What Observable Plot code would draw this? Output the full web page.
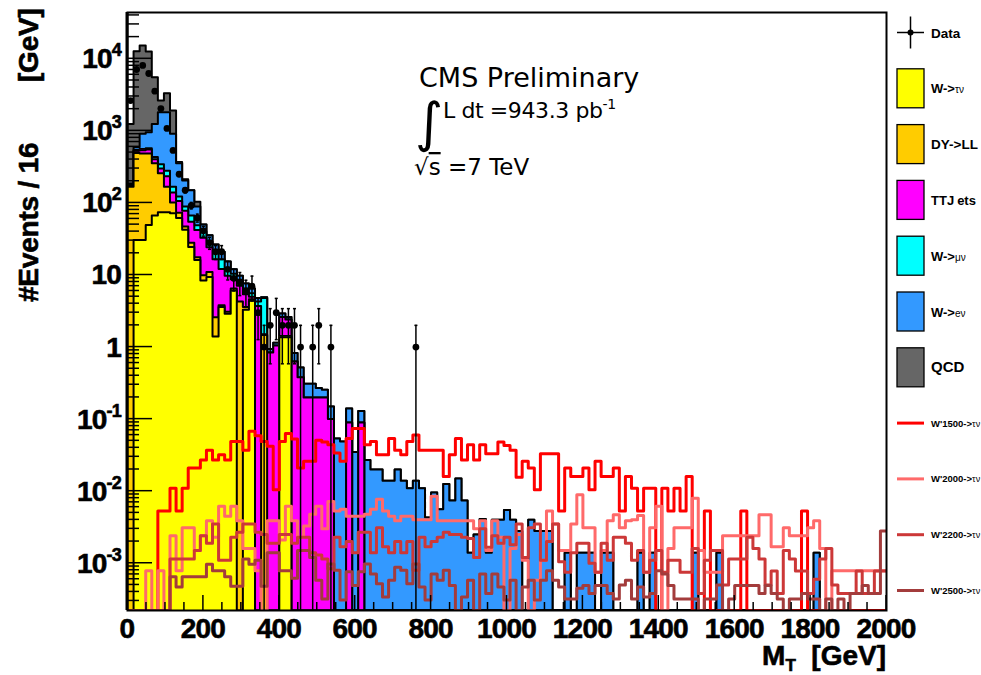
<!DOCTYPE html>
<html><head><meta charset="utf-8">
<script src="https://cdn.jsdelivr.net/npm/d3@7"></script>
<script src="https://cdn.jsdelivr.net/npm/@observablehq/plot@0.6"></script>
<style>html,body{margin:0;padding:0;background:#fff;overflow:hidden;}</style>
</head><body><div id="chart"></div>
<script>
// ---------- data (bins of 16 GeV from 0 to 2000) ----------
const binWidth = 16;
const nBins = 125;
const yMin = 2.21e-4, yMax = 4.39e4;

const xTickLabels = [0, 200, 400, 600, 800, 1000, 1200, 1400, 1600, 1800, 2000];
const yTickExps = [4, 3, 2, 1, 0, -1, -2, -3];

// stacked backgrounds (per-bin contributions)
const wTauNu = [0, 30.5, 30.5, 49.5, 67, 74, 74, 72, 62, 42.5,
  24.5, 16.2, 8.4, 9.4, 1.4, 3.6, 2.9, 6.1, 0, 3.3,
  4.4, 0, 0, 0, 0, 1.37, 1.37];
const dyLL = [168, 464, 454, 435, 288, 184, 94, 29, 11, 4.5,
  3.5, 1.4, 1.5, 1.6, 1.2, 0.2, 0.2, 0.4, 4.3, 0.3,
  0.2, 0, 1.47, 0, 0, 0.05, 0.05];
const ttJets = [5, 35, 55, 65, 50, 42, 67, 39, 33, 31,
  27, 24.4, 23.1, 13.3, 13.9, 8.3, 6.7, 2.2, 2.8, 1.8,
  0.4, 3.7, 0.03, 0.84, 1.05, 1.2, 1.0, 0.63, 0.38, 0.2,
  0.2, 0.2, 0.2, 0.1, 0, 0, 0.09, 0, 0.09];
const wMuNu = [5, 15, 20, 25, 30, 45, 45, 28, 17, 11,
  12, 7, 7, 4.7, 3.5, 4.4, 2.2, 1.7, 1.1, 1.1,
  0.6, 0.6, 3.3];
const wENu = [8, 48, 350, 385, 815, 1470, 1535, 742, 232, 116,
  83, 40, 10, 6.5, 6.5, 4.5, 3.4, 1.6, 1.6, 1.1,
  0.9, 0.5, 0.1, 0.1, 0.1, 0.3, 0.2, 0.2, 0.14, 0.11,
  0.11, 0.07, 0.055, 0.05, 0.054, 0.049, 0.05, 0.035, 0.04, 0.027,
  0.02, 0.02, 0.014, 0.014, 0.02, 0.014, 0.011, 0.014, 0.011, 0.0043,
  0.0096, 0.0056, 0.0126, 0.0074, 0.015, 0.0074, 0.0014, 0.0025, 0.0041, 0.0014,
  0.004, 0.004, 0.0055, 0.004, 0.0028, 0, 0.004, 0.0028, 0.0028, 0.0028,
  0, 0, 0.0014, 0, 0.0014, 0.0014, 0.0014, 0, 0.0014, 0.0014,
  0, 0, 0, 0, 0.0014, 0, 0.0014, 0, 0, 0,
  0, 0, 0, 0.0014, 0, 0, 0, 0.0014, 0, 0,
  0, 0, 0, 0, 0, 0, 0, 0, 0, 0,
  0, 0, 0, 0.0014];
const qcd = [1064, 12100, 14400, 11700, 4300, 825, 1515, 1010, 14, 8,
  0, 15];

// signals
const wp1500 = [0, 0, 0, 0, 0, 0.0053, 0.0053, 0.011, 0.0053, 0.011,
  0.021, 0.021, 0.027, 0.037, 0.027, 0.032, 0.027, 0.049, 0.049, 0.037,
  0.068, 0.059, 0.049, 0.042, 0.0105, 0.049, 0.063, 0.053, 0.021, 0.026,
  0.026, 0.051, 0.048, 0.044, 0.034, 0.026, 0.054, 0.074, 0.074, 0.044,
  0.049, 0.032, 0.032, 0.054, 0.037, 0.032, 0.049, 0.060, 0.037, 0.037,
  0.037, 0.037, 0.016, 0.032, 0.054, 0.027, 0.044, 0.027, 0.044, 0.033,
  0.033, 0.048, 0.043, 0.037, 0.0156, 0.026, 0.021, 0.0105, 0.033, 0.033,
  0.033, 0.0053, 0.021, 0.016, 0.016, 0.021, 0.0105, 0.026, 0.016, 0.016,
  0.021, 0.0053, 0.016, 0.011, 0.0053, 0.011, 0.011, 0, 0.011, 0.0053,
  0.011, 0.0053, 0.016, 0, 0, 0.0053, 0, 0, 0, 0,
  0, 0.0053, 0, 0, 0, 0, 0, 0, 0, 0,
  0, 0.0053, 0, 0, 0, 0, 0, 0, 0, 0,
  0, 0, 0, 0, 0];
const wp2000 = [0, 0, 0, 0.00079, 0, 0.00079, 0, 0.0024, 0.00079, 0.0031,
  0.0031, 0.0015, 0.0024, 0.0039, 0.0023, 0.0062, 0.0045, 0.0062, 0.0039, 0.0016,
  0.0016, 0.00079, 0, 0.0039, 0.0039, 0.0021, 0.0062, 0.0039, 0.0023, 0.0033,
  0.0048, 0.0062, 0.003, 0.0072, 0.0053, 0.0056, 0.0045, 0.0045, 0.0045, 0.0048,
  0.0056, 0.0077, 0.0053, 0.0045, 0.0039, 0.0045, 0.0045, 0.004, 0.004, 0.004,
  0.0085, 0.0039, 0.0039, 0.0039, 0.0039, 0.0039, 0.0039, 0.003, 0.0039, 0.0015,
  0.0039, 0.0023, 0, 0.0016, 0.0025, 0.0011, 0, 0.00058, 0.0011, 0.0053,
  0.0035, 0.0015, 0.0015, 0.0035, 0.0089, 0.0031, 0.0031, 0.00075, 0.0015, 0.0039,
  0.0047, 0.0031, 0.0039, 0.004, 0.0046, 0.00075, 0.0031, 0.0062, 0, 0.0016,
  0.0031, 0.0031, 0.0031, 0.008, 0.0015, 0.00075, 0.00075, 0.00075, 0.0024, 0.0024,
  0.0024, 0.0024, 0.0024, 0.0024, 0.0047, 0.0047, 0.0017, 0.0017, 0.0031, 0.0024,
  0.0024, 0.0024, 0.0031, 0.0039, 0.0016, 0, 0.00079, 0.00079, 0.00079, 0.00079,
  0.00079, 0.00079, 0.00079, 0.00079, 0.00079];
const wp2200 = [0, 0, 0, 0, 0, 0, 0, 0.00115, 0.00115, 0.00115,
  0.00115, 0.0015, 0.0024, 0.0019, 0.0035, 0.0011, 0.0011, 0.0023, 0.0027, 0.0035,
  0.0035, 0.0027, 0.0025, 0.0019, 0.0019, 0.0025, 0.0025, 0.0019, 0.0023, 0.0023,
  0.0014, 0.0013, 0.00115, 0.00084, 0.0023, 0.0017, 0.002, 0.0014, 0.0027, 0.0027,
  0.0014, 0.0031, 0.0017, 0.0014, 0.002, 0.0014, 0.002, 0.0008, 0.0023, 0.0017,
  0.002, 0.0023, 0.0027, 0.0025, 0.0025, 0.0023, 0.0022, 0.0012, 0.003, 0.00167,
  0.0024, 0.0019, 0.0023, 0.0018, 0.0035, 0.0012, 0.0031, 0.0035, 0.0011, 0.002,
  0.0035, 0.00105, 0.00075, 0.0014, 0.0019, 0.0019, 0.001, 0.00075, 0.0019, 0.0011,
  0.0023, 0.0023, 0.0019, 0.0011, 0.0015, 0.00075, 0.0011, 0.0015, 0.00075, 0.0011,
  0.0011, 0.00075, 0.00075, 0.0016, 0.00038, 0.0011, 0.0015, 0.0015, 0.0005, 0.00115,
  0.00115, 0.00115, 0.0023, 0.0016, 0.00115, 0.0005, 0.00078, 0.00038, 0.0015, 0.00115,
  0.00078, 0.00078, 0.00038, 0.0006, 0.00115, 0.0016, 0.0005, 0.00038, 0.00038, 0.00038,
  0.00078, 0.00038, 0.00038, 0.00078, 0.00078];
const wp2500 = [0, 0, 0, 0, 0, 0, 0, 0.00065, 0.00047, 0.00065,
  0.00065, 0.00065, 0.00065, 0.00097, 0.00079, 0.00079, 0.00065, 0.00048, 0.00048, 0.00115,
  0.00097, 0.0011, 0.00048, 0.0014, 0.0014, 0.00079, 0.00079, 0.00062, 0.0015, 0.0015,
  0.0012, 0.00058, 0.00032, 0.00098, 0.0008, 0.00031, 0.00076, 0.00049, 0.00076, 0.00098,
  0.00071, 0.00052, 0.00034, 0.00058, 0.00088, 0.0008, 0.00052, 0.00098, 0.00047, 0.00031,
  0.00071, 0.00058, 0.0008, 0.00049, 0, 0.00034, 0.00058, 0, 0.00071, 0.00038,
  0.00071, 0.00047, 0.00031, 0.00058, 0, 0.00047, 0.00058, 0.00031, 0.00058, 0.00079,
  0.00058, 0.00047, 0.00032, 0.00032, 0.00045, 0.00049, 0.00038, 0.00049, 0.00049, 0.00038,
  0.00032, 0.0005, 0.00058, 0.00032, 0.00047, 0.00034, 0.00038, 0.00079, 0.00071, 0.00049,
  0.00032, 0.00032, 0.00032, 0.00032, 0, 0.00032, 0.00032, 0.0005, 0, 0.00032,
  0.00049, 0.00049, 0.00049, 0.00049, 0.00038, 0.00049, 0.00038, 0.00032, 0, 0.00032,
  0.00032, 0.00038, 0.00032, 0.00032, 0, 0.00032, 0, 0.00032, 0, 0.00038,
  0.00038, 0.00049, 0.00038, 0.00038, 0.0028];

// data (events per bin)
const dataCounts = [2630, 7100, 8080, 6250, 3550, 2040, 1080, 535, 250, 150,
  92, 62, 41, 28, 21, 21, 12, 9, 8, 6,
  7, 3, 1, 2, 3, 2, 2, 2, 1, 0,
  1, 2, 0, 1, 0, 0, 0, 0, 0, 0,
  0, 0, 0, 0, 0, 0, 0, 1];

// ---------- build ----------
const full = a => Array.from({length: nBins}, (_, i) => a[i] ?? 0);
const stackDefs = [ // bottom to top
  {name: "W->τν", values: full(wTauNu), color: "#ffff00"},
  {name: "DY->LL", values: full(dyLL), color: "#ffcc00"},
  {name: "TTJets", values: full(ttJets), color: "#ff00ff"},
  {name: "W->μν", values: full(wMuNu), color: "#00ffff"},
  {name: "W->eν", values: full(wENu), color: "#3399ff"},
  {name: "QCD", values: full(qcd), color: "#666666"}
];
let running = new Array(nBins).fill(0);
for (const s of stackDefs) { running = running.map((c, i) => c + s.values[i]); s.cum = running; }

const edges = d3.range(nBins + 1).map(i => i * binWidth);
const stepPts = vals => edges.map((x, i) => ({x, y: Math.max(vals[Math.min(i, nBins - 1)], yMin), y0: yMin}));

const signals = [
  {name: "W'1500->τν", values: full(wp1500), color: "#ff0000"},
  {name: "W'2000->τν", values: full(wp2000), color: "#ff6a6a"},
  {name: "W'2200->τν", values: full(wp2200), color: "#cc3838"},
  {name: "W'2500->τν", values: full(wp2500), color: "#a33c3c"}
];

const marks = [];
for (const s of [...stackDefs].reverse()) {
  const pts = stepPts(s.cum);
  marks.push(Plot.areaY(pts, {x: "x", y1: "y0", y2: "y", curve: "step-after", fill: s.color, clip: true}));
  marks.push(Plot.lineY(pts, {x: "x", y: "y", curve: "step-after", stroke: "black", strokeWidth: 2, clip: true}));
}
for (const s of signals) {
  marks.push(Plot.lineY(stepPts(s.values), {x: "x", y: "y", curve: "step-after", stroke: s.color, strokeWidth: 3, clip: true}));
}
const dataPts = dataCounts.map((n, i) => ({x: i * binWidth + binWidth / 2, n, lo: Math.max(n - Math.sqrt(n), yMin), hi: n + Math.sqrt(n)})).filter(d => d.n > 0);
marks.push(Plot.ruleX(dataPts, {x: "x", y1: "lo", y2: "hi", stroke: "black", strokeWidth: 1.5, clip: true}));
marks.push(Plot.link(dataPts, {x1: d => d.x - 4, x2: d => d.x + 4, y1: "hi", y2: "hi", stroke: "black", strokeWidth: 1.5, clip: true}));
marks.push(Plot.link(dataPts.filter(d => d.lo > yMin), {x1: d => d.x - 4, x2: d => d.x + 4, y1: "lo", y2: "lo", stroke: "black", strokeWidth: 1.5, clip: true}));
marks.push(Plot.dot(dataPts, {x: "x", y: "n", r: 3.4, fill: "black", stroke: null}));
marks.push(Plot.frame({stroke: "black", strokeWidth: 2}));

const plot = Plot.plot({
  width: 981, height: 675,
  marginLeft: 127, marginRight: 95, marginTop: 12, marginBottom: 65,
  x: {domain: [0, 2000], axis: null},
  y: {type: "log", domain: [yMin, yMax], axis: null},
  style: {background: "white", overflow: "visible"},
  marks
});
document.getElementById("chart").appendChild(plot);

// ---------- axes, texts, legend ----------
const svg = d3.select(plot);
const sx = plot.scale("x"), sy = plot.scale("y");
const [xl, xr] = sx.range;
const [yb, yt] = sy.range;
const bold = '"Liberation Sans", Arial, sans-serif';

svg.append("line").attr("x1", xl).attr("x2", xl).attr("y1", yt).attr("y2", yb).attr("stroke", "black").attr("stroke-width", 3);
const tk = svg.append("g").attr("stroke", "black").attr("stroke-width", 1.5);
d3.range(0, 2001, 50).forEach(v => {
  const len = v % 200 === 0 ? 15 : 8;
  tk.append("line").attr("x1", sx.apply(v)).attr("x2", sx.apply(v)).attr("y1", yb).attr("y2", yb - len);
});
for (let k = -4; k <= 4; k++) for (let m = 1; m <= 9; m++) {
  const v = m * Math.pow(10, k);
  if (v < yMin || v > yMax) continue;
  const py = sy.apply(v);
  tk.append("line").attr("x1", xl).attr("x2", xl + (m === 1 ? 25 : 12)).attr("y1", py).attr("y2", py);
}

const lab = svg.append("g").attr("font-family", bold).attr("font-weight", "bold").attr("fill", "black")
  .attr("stroke", "black").attr("stroke-width", 0.6).attr("text-anchor", "start");
xTickLabels.forEach(v => {
  lab.append("text").attr("x", sx.apply(v)).attr("y", 638).attr("text-anchor", "middle")
    .attr("font-size", 28).attr("letter-spacing", -0.8).text(v);
});
yTickExps.forEach(k => {
  const py = sy.apply(Math.pow(10, k)) + 10;
  const t = lab.append("text").attr("x", 121).attr("y", py).attr("text-anchor", "end").attr("font-size", 28).attr("letter-spacing", -0.8);
  if (k === 0) t.text("1");
  else if (k === 1) t.text("10");
  else {
    t.append("tspan").text("10");
    t.append("tspan").attr("dy", -12).attr("font-size", 18).text(k < 0 ? "-" + (-k) : String(k));
  }
});
// axis titles
lab.append("text").attr("transform", "translate(38,302) rotate(-90)").attr("text-anchor", "start").attr("font-size", 28).attr("letter-spacing", -0.2).text("#Events / 16");
lab.append("text").attr("transform", "translate(38,82) rotate(-90)").attr("text-anchor", "start").attr("font-size", 28).attr("letter-spacing", -0.2).text("[GeV]");
const xt = lab.append("text").attr("x", 886).attr("y", 665).attr("text-anchor", "end").attr("font-size", 28);
xt.append("tspan").text("M");
xt.append("tspan").attr("font-size", 17).attr("dy", 6).text("T");
xt.append("tspan").attr("dy", -6).text("  [GeV]");

// CMS texts
const tx = svg.append("g").attr("font-family", '"DejaVu Sans", sans-serif').attr("fill", "black").attr("text-anchor", "start");
tx.append("text").attr("x", 419).attr("y", 87).attr("font-size", 27).text("CMS Preliminary");
tx.append("text").attr("x", 415).attr("y", 141).attr("font-size", 54).text("∫");
const lum = tx.append("text").attr("x", 443).attr("y", 118).attr("font-size", 22).attr("letter-spacing", -0.4);
lum.append("tspan").text("L dt =943.3 pb");
lum.append("tspan").attr("dy", -9).attr("font-size", 14).text("-1");
const rs = tx.append("text").attr("x", 414).attr("y", 175).attr("font-size", 23);
rs.append("tspan").text("√");
rs.append("tspan").attr("style", "text-decoration: overline").text("s");
rs.append("tspan").text(" =7 TeV");

// legend
const lg = svg.append("g").attr("font-family", bold).attr("font-weight", "bold").attr("text-anchor", "start").attr("fill", "black");
const rowY = k => 32.5 + 55.8 * k;
const lx0 = 897, lx1 = 924, ltx = 931;
lg.append("line").attr("x1", lx0).attr("x2", lx1).attr("y1", rowY(0)).attr("y2", rowY(0)).attr("stroke", "black").attr("stroke-width", 1.5);
lg.append("line").attr("x1", 910.5).attr("x2", 910.5).attr("y1", rowY(0) - 16).attr("y2", rowY(0) + 16).attr("stroke", "black").attr("stroke-width", 1.5);
lg.append("circle").attr("cx", 910.5).attr("cy", rowY(0)).attr("r", 3).attr("fill", "black");
lg.append("text").attr("x", ltx).attr("y", rowY(0) + 5).attr("font-size", 13.5).text("Data");
const legendLabel = (t, name) => {
  const m = name.match(/^(W->)(.+)$/);
  if (m) {
    t.append("tspan").text(m[1]);
    t.append("tspan").attr("font-size", 10).attr("font-weight", "normal").text(m[2]);
  } else if (name === "TTJets") {
    t.append("tspan").text("TTJ");
    t.append("tspan").attr("dx", 3).text("ets");
  } else t.text(name);
};
stackDefs.forEach((s, j) => {
  const cy = rowY(j + 1);
  lg.append("rect").attr("x", lx0).attr("y", cy - 19.5).attr("width", lx1 - lx0).attr("height", 39)
    .attr("fill", s.color).attr("stroke", "black").attr("stroke-width", 1.3);
  const t = lg.append("text").attr("x", ltx).attr("y", cy + 5).attr("font-size", s.name === "QCD" ? 15 : (s.name === "DY->LL" ? 13.5 : 13));
  legendLabel(t, s.name);
});
signals.forEach((s, j) => {
  const cy = rowY(j + 7);
  lg.append("line").attr("x1", lx0).attr("x2", lx1).attr("y1", cy).attr("y2", cy).attr("stroke", s.color).attr("stroke-width", 3);
  const t = lg.append("text").attr("x", ltx).attr("y", cy + 3.5).attr("font-size", 9.5);
  const m = s.name.match(/^(W'\d+->)(.+)$/);
  t.append("tspan").text(m[1]);
  t.append("tspan").attr("font-weight", "normal").attr("font-size", 9).text(m[2]);
});
</script>
</body></html>
